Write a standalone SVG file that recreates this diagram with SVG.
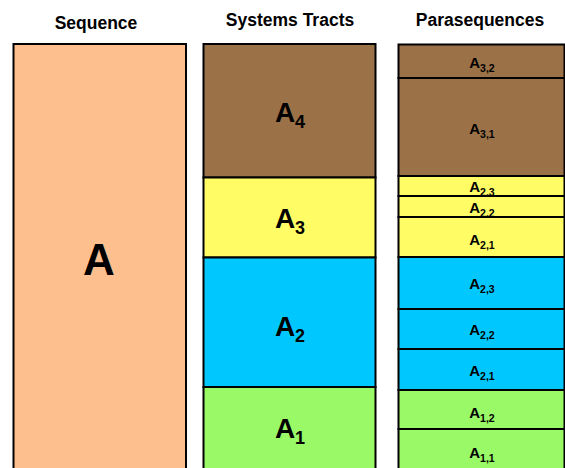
<svg xmlns="http://www.w3.org/2000/svg" width="565" height="468" viewBox="0 0 565 468">
<style>
.box{stroke:#000;stroke-width:2}
.seq{fill:#FDBF8D}
.br{fill:#9B7148}
.ye{fill:#FFFC66}
.bl{fill:#00C8FF}
.gr{fill:#99F966}
text{font-family:"Liberation Sans",Arial,sans-serif;font-weight:bold;fill:#000;text-anchor:middle}
.hd{font-size:17.5px}
.big{font-size:44px}
.st{font-size:28px}
.ps{font-size:15px}
</style>
<g id="headers">
<text class="hd" x="96" y="29">Sequence</text>
<text class="hd" x="290" y="26">Systems Tracts</text>
<text class="hd" x="480" y="26">Parasequences</text>
</g>
<g id="seq-A">
<rect class="box seq" x="13.5" y="44" width="172.5" height="440"/>
<text class="big" x="99" y="275">A</text>
</g>
<g id="st-A4">
<rect class="box br" x="203.5" y="44" width="172" height="133.5"/>
<text class="st" x="290" y="122">A<tspan font-size="18" dy="6">4</tspan></text>
</g>
<g id="st-A3">
<rect class="box ye" x="203.5" y="177.5" width="172" height="80"/>
<text class="st" x="290" y="228">A<tspan font-size="18" dy="6">3</tspan></text>
</g>
<g id="st-A2">
<rect class="box bl" x="203.5" y="257.5" width="172" height="129.5"/>
<text class="st" x="290" y="336">A<tspan font-size="18" dy="6">2</tspan></text>
</g>
<g id="st-A1">
<rect class="box gr" x="203.5" y="387" width="172" height="97"/>
<text class="st" x="290" y="438">A<tspan font-size="18" dy="6">1</tspan></text>
</g>
<g id="ps-A32">
<rect class="box br" x="398.5" y="44.5" width="166" height="33.5"/>
<text class="ps" x="482" y="68">A<tspan font-size="10.5" dy="3.5">3,2</tspan></text>
</g>
<g id="ps-A31">
<rect class="box br" x="398.5" y="78" width="166" height="98"/>
<text class="ps" x="482" y="134">A<tspan font-size="10.5" dy="3.5">3,1</tspan></text>
</g>
<g id="ps-A23y">
<rect class="box ye" x="398.5" y="176" width="166" height="20"/>
<text class="ps" x="482" y="192">A<tspan font-size="10.5" dy="3.5">2,3</tspan></text>
</g>
<g id="ps-A22y">
<rect class="box ye" x="398.5" y="196" width="166" height="21"/>
<text class="ps" x="482" y="213">A<tspan font-size="10.5" dy="3.5">2,2</tspan></text>
</g>
<g id="ps-A21y">
<rect class="box ye" x="398.5" y="217" width="166" height="40"/>
<text class="ps" x="482" y="245">A<tspan font-size="10.5" dy="3.5">2,1</tspan></text>
</g>
<g id="ps-A23b">
<rect class="box bl" x="398.5" y="257" width="166" height="52"/>
<text class="ps" x="482" y="289">A<tspan font-size="10.5" dy="3.5">2,3</tspan></text>
</g>
<g id="ps-A22b">
<rect class="box bl" x="398.5" y="309" width="166" height="40"/>
<text class="ps" x="482" y="335">A<tspan font-size="10.5" dy="3.5">2,2</tspan></text>
</g>
<g id="ps-A21b">
<rect class="box bl" x="398.5" y="349" width="166" height="41"/>
<text class="ps" x="482" y="376">A<tspan font-size="10.5" dy="3.5">2,1</tspan></text>
</g>
<g id="ps-A12">
<rect class="box gr" x="398.5" y="390" width="166" height="39"/>
<text class="ps" x="482" y="418">A<tspan font-size="10.5" dy="3.5">1,2</tspan></text>
</g>
<g id="ps-A11">
<rect class="box gr" x="398.5" y="429" width="166" height="55"/>
<text class="ps" x="482" y="458">A<tspan font-size="10.5" dy="3.5">1,1</tspan></text>
</g>
</svg>
